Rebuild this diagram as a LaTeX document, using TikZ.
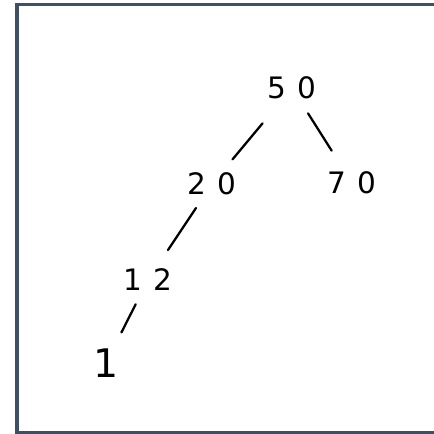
\documentclass[tikz,border=0pt]{standalone}
\usepackage{fontspec}
\newfontfamily\handfont[LetterSpace=40]{DejaVu Sans}
\definecolor{framecol}{HTML}{3E4F66}
\begin{document}
\begin{tikzpicture}[
		key/.style={font=\handfont\fontsize{21}{25}\selectfont, inner sep=0pt},
		branch/.style={line width=1.6pt, line cap=round}
	]
		\useasboundingbox (0,0) rectangle (10.85,10.85);
		
		% Frame (open on the right)
		\draw[framecol, line width=0.09cm] (11,10.74) -- (0.43,10.74) -- (0.43,0.04) -- (11,0.04);
		
		% Keys
		\node[key] (n50) at (7.3,8.65) {50};
		\node[key] (n20) at (5.3,6.25) {20};
		\node[key] (n70) at (8.8,6.28) {70};
		\node[key] (n12) at (3.7,3.85) {12};
		\node[key, font=\handfont\fontsize{28}{32}\selectfont] (n1) at (2.65,1.78) {1};
		
		% Branches
		\draw[branch, shorten <=1.15cm, shorten >=0.8cm] (n50.center) -- (n20.center);
		\draw[branch, shorten <=0.75cm, shorten >=0.95cm] (n50.center) -- (n70.center);
		\draw[branch, shorten <=0.72cm, shorten >=0.9cm] (n20.center) -- (n12.center);
		\draw[branch, shorten <=0.68cm, shorten >=0.85cm] (n12.center) -- (n1.center);
	\end{tikzpicture}
\end{document}
